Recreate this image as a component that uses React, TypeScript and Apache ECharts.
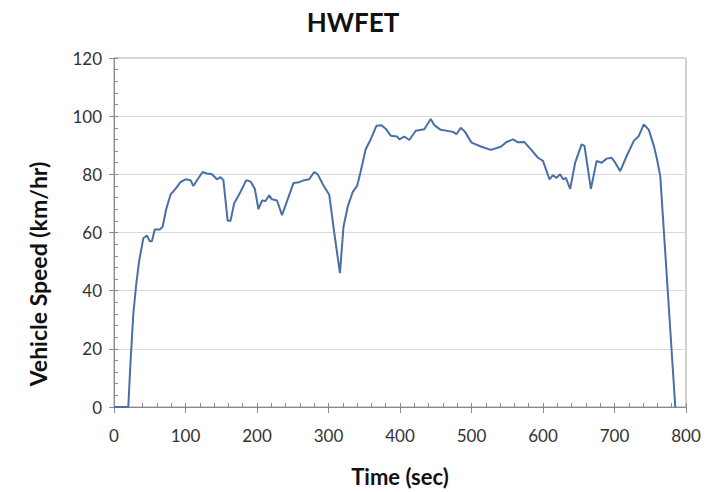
import React, { useEffect, useRef } from "react";
import * as echarts from "echarts";

const titleText = "HWFET";
const xName = "Time (sec)";
const yName = "Vehicle Speed (km/hr)";

const timeSec = [
  0, 20, 23, 27, 31, 35, 41, 46, 50, 53, 57, 64, 68, 73, 79, 86, 93, 100, 107, 111,
  117, 124, 130, 137, 144, 149, 153, 159, 163, 168, 177, 185, 191, 197, 202, 207, 212, 217, 221, 228,
  235, 242, 251, 259, 266, 273, 280, 285, 292, 301, 308, 316, 321, 327, 334, 340, 345, 352, 359, 367,
  374, 380, 387, 396, 399, 406, 413, 422, 434, 443, 448, 457, 474, 479, 485, 491, 500, 514, 527, 541,
  549, 558, 565, 574, 584, 593, 600, 609, 614, 619, 624, 628, 632, 638, 645, 654, 658, 667, 675, 682,
  689, 696, 701, 708, 717, 727, 734, 741, 748, 755, 759, 764, 775, 785,
];
const speedKmh = [
  0, 0, 15, 32, 42, 50, 58, 59, 57, 57, 61, 61, 62, 68, 73, 75, 77.3, 78.3, 78, 76,
  78.3, 80.8, 80.3, 80, 78.3, 79, 78, 64, 64, 70, 74, 78, 77.5, 75, 68, 71, 70.8, 72.8, 71.4, 71,
  66, 70.8, 77, 77.3, 78, 78.3, 80.8, 80, 76.6, 73, 60, 46, 62, 69, 74, 76, 81, 88.6, 92, 96.7,
  96.9, 95.7, 93.3, 93, 92, 93, 91.8, 95, 95.5, 99, 96.9, 95.3, 94.6, 93.8, 96, 94.6, 90.9, 89.5, 88.4, 89.5,
  91.1, 92, 91, 91.1, 88.3, 85.7, 84.6, 78.3, 79.7, 78.8, 80, 78.3, 78.8, 75, 84, 90.3, 89.8, 75, 84.6, 84,
  85.4, 85.7, 84, 81.1, 86.3, 91.5, 93.2, 97.2, 95.3, 89.8, 85.7, 79.4, 38, 0,
];

const xMin = 0, xMax = 800, xStep = 100, xMinorStep = 20;
const yMin = 0, yMax = 120, yStep = 20, yMinorStep = 4;

const FONT = "Lato, 'Open Sans', sans-serif";

export default function App() {
  const ref = useRef<HTMLDivElement>(null);
  useEffect(() => {
    if (!ref.current) return;
    const chart = echarts.init(ref.current, undefined, { renderer: "svg" });
    const data = timeSec.map((t, i) => [t, speedKmh[i]]);
    chart.setOption({
      animation: false,
      backgroundColor: "#ffffff",
      title: {
        text: titleText,
        left: "center",
        top: 4,
        textStyle: { fontFamily: FONT, fontWeight: "bold", fontSize: 26, color: "#111111" },
      },
      grid: {
        left: 114,
        right: 20,
        top: 58,
        bottom: 85,
        show: true,
        borderColor: "#a0a0a0",
        borderWidth: 1,
        backgroundColor: "transparent",
      },
      xAxis: [
        {
          type: "value",
          min: xMin,
          max: xMax,
          interval: xStep,
          name: xName,
          nameLocation: "middle",
          nameGap: 58,
          nameTextStyle: { fontFamily: FONT, fontWeight: "bold", fontSize: 22, color: "#111111" },
          axisLine: { show: true, lineStyle: { color: "#8a8a8a", width: 1 } },
          axisTick: { show: true, length: 6, lineStyle: { color: "#8a8a8a" } },
          axisLabel: { fontFamily: FONT, fontSize: 17, color: "#333333", margin: 20 },
          splitLine: { show: false },
        },
        {
          type: "value",
          min: xMin,
          max: xMax,
          interval: xMinorStep,
          position: "bottom",
          axisLine: { show: false },
          axisTick: { show: true, inside: true, length: 4, lineStyle: { color: "#8a8a8a" } },
          axisLabel: { show: false },
          splitLine: { show: false },
        },
      ],
      yAxis: [
        {
          type: "value",
          min: yMin,
          max: yMax,
          interval: yStep,
          axisLine: { show: true, lineStyle: { color: "#8a8a8a", width: 1 } },
          axisTick: { show: true, length: 5, lineStyle: { color: "#8a8a8a" } },
          axisLabel: { fontFamily: FONT, fontSize: 17, color: "#333333", margin: 12 },
          splitLine: { show: true, lineStyle: { color: "#d9d9d9", width: 1 } },
        },
        {
          type: "value",
          min: yMin,
          max: yMax,
          interval: yMinorStep,
          position: "left",
          axisLine: { show: false },
          axisTick: { show: true, inside: true, length: 4, lineStyle: { color: "#8a8a8a" } },
          axisLabel: { show: false },
          splitLine: { show: false },
        },
      ],
      graphic: [
        {
          type: "text",
          x: 38,
          y: 274,
          rotation: Math.PI / 2,
          style: {
            text: yName,
            fontFamily: FONT,
            fontWeight: "bold",
            fontSize: 23,
            fill: "#111111",
            align: "center",
            verticalAlign: "middle",
          },
        },
      ],
      series: [
        {
          type: "line",
          data,
          showSymbol: false,
          symbol: "none",
          smooth: false,
          lineStyle: { color: "#4a6fa8", width: 2 },
          xAxisIndex: 0,
          yAxisIndex: 0,
        },
      ],
    });
    return () => chart.dispose();
  }, []);
  return <div ref={ref} style={{ width: 706, height: 492, position: "absolute", left: 0, top: 0 }} />;
}
